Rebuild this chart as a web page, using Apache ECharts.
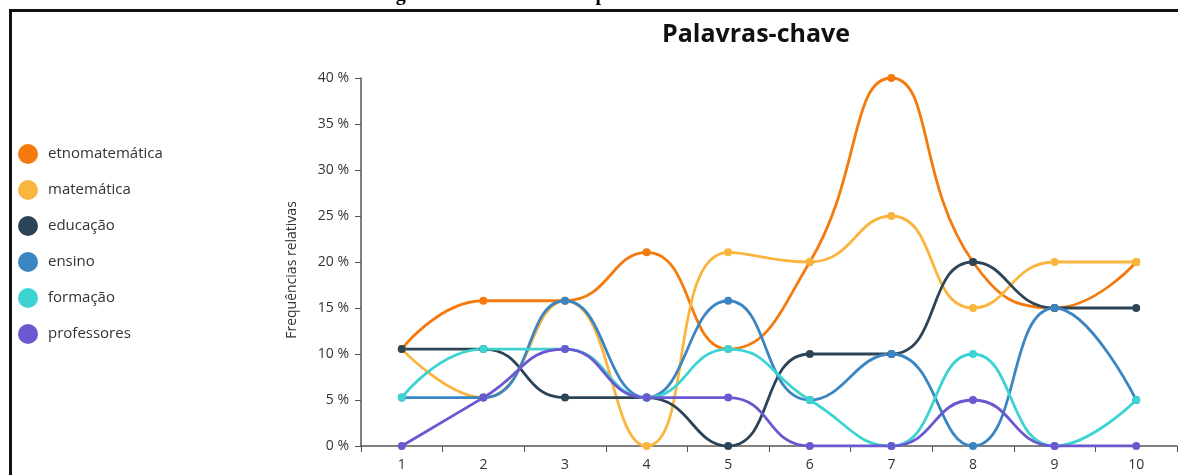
<!DOCTYPE html>
<html>
<head>
<meta charset="utf-8">
<script src="https://cdn.jsdelivr.net/npm/echarts@6/dist/echarts.min.js"></script>
<style>
html,body{margin:0;padding:0;background:#fff;}
#c{width:1178px;height:475px;}
</style>
</head>
<body>
<div id="c"></div>
<script>
const categories = ['1','2','3','4','5','6','7','8','9','10'];
const yTicks = [0,5,10,15,20,25,30,35,40];
const seriesNames = ['etnomatemática','matemática','educação','ensino','formação','professores'];
const etnomatematica = [10.53,15.79,15.79,21.05,10.53,20,40,20,15,20];
const matematica     = [10.53,5.26,15.79,0,21.05,20,25,15,20,20];
const educacao       = [10.53,10.53,5.26,5.26,0,10,10,20,15,15];
const ensino         = [5.26,5.26,15.79,5.26,15.79,5,10,0,15,5];
const formacao       = [5.26,10.53,10.53,5.26,10.53,5,0,10,0,5];
const professores    = [0,5.26,10.53,5.26,5.26,0,0,5,0,0];
const seriesData = [etnomatematica, matematica, educacao, ensino, formacao, professores];
const colors = ['#f47a0e','#f9b53d','#2d4457','#3a85c2','#3ed3d3','#6a58d0'];

const chart = echarts.init(document.getElementById('c'), null, {renderer:'canvas'});
const font = '"Open Sans","Noto Sans",sans-serif';
chart.setOption({
  animation:false,
  color: colors,
  title:{
    text:'Palavras-chave', left:751, textAlign:'center', top:17,
    textStyle:{fontFamily:font, fontSize:25, fontWeight:'bold', color:'#111'}
  },
  graphic:[
    {type:'rect', shape:{x:9,y:9,width:1169,height:3}, style:{fill:'#111'}},
    {type:'rect', shape:{x:9,y:9,width:3,height:466}, style:{fill:'#111'}},
    {type:'text', left:378, top:-15, style:{text:'Figura 4 – Tendências de palavras-chave', font:'bold 20px "Liberation Serif", serif', fill:'#000'}}
  ],
  legend:{
    orient:'vertical', left:13, top:139, itemGap:16,
    icon:'circle', itemWidth:20, itemHeight:20,
    textStyle:{fontFamily:font, fontSize:15, color:'#333', padding:[0,0,0,5]},
    data: seriesNames
  },
  grid:{left:361, right:1, top:78, bottom:29, containLabel:false},
  xAxis:{
    type:'category', data:categories, boundaryGap:true,
    axisLine:{lineStyle:{color:'#555', width:1.5}},
    axisTick:{show:true, length:6, lineStyle:{color:'#555'}},
    axisLabel:{fontFamily:font, fontSize:14, color:'#333', margin:12}
  },
  yAxis:{
    type:'value', min:yTicks[0], max:yTicks[yTicks.length-1], interval:5,
    name:'Frequências relativas', nameLocation:'middle', nameGap:62,
    nameTextStyle:{fontFamily:font, fontSize:14, color:'#333', padding:[0,16,0,0]},
    axisLine:{show:true, lineStyle:{color:'#555', width:1.5}},
    axisTick:{show:true, length:6, lineStyle:{color:'#555'}},
    splitLine:{show:false},
    axisLabel:{fontFamily:font, fontSize:14, color:'#333', margin:12, formatter: v => v + ' %'}
  },
  series: seriesNames.map((n,i)=>({
    name:n, type:'line', data:seriesData[i], smooth:0.5,
    symbol:'circle', symbolSize:8,
    lineStyle:{width:2.8, color:colors[i]},
    itemStyle:{color:colors[i]}
  }))
});
</script>
</body>
</html>
